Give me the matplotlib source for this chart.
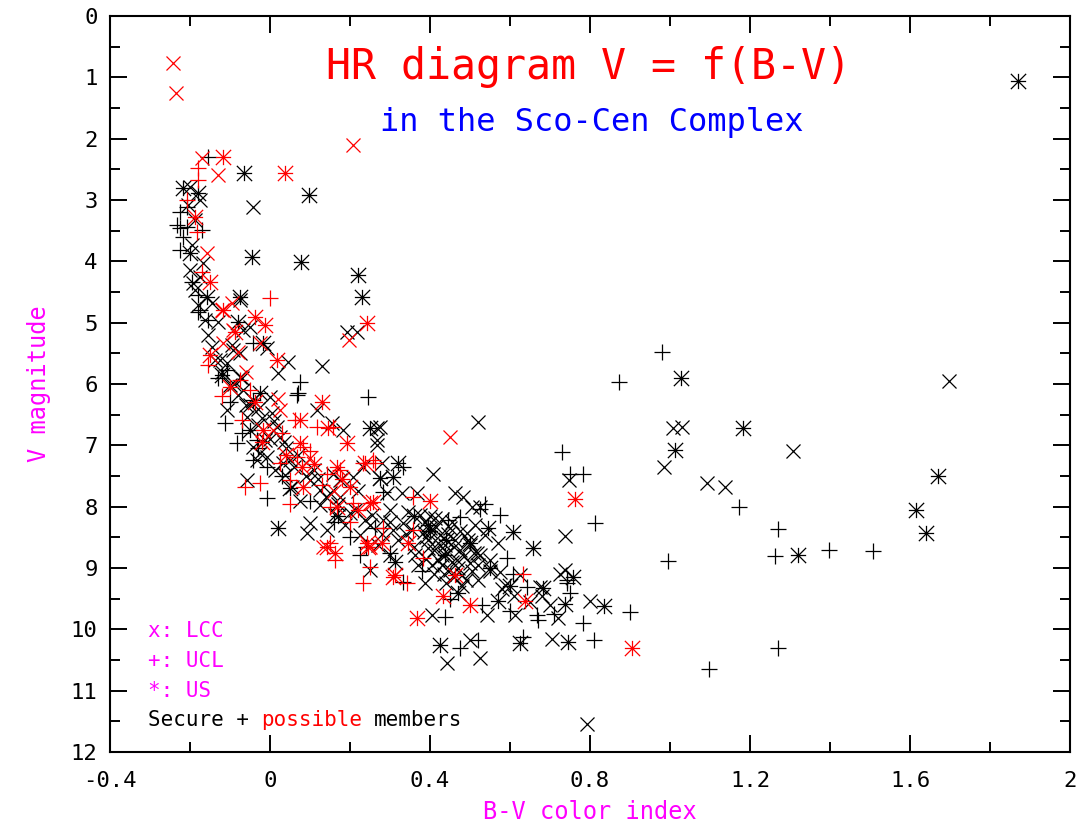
import numpy as np
import matplotlib.pyplot as plt
from matplotlib.path import Path
from matplotlib.ticker import MultipleLocator, FixedLocator, FixedFormatter

# (B-V, V), one list per marker / membership
lcc_secure = [  # black x
    (-0.043, 3.12), (0.13, 5.71), (0.193, 5.15), (0.218, 5.15), (0.268, 6.72), (0.52, 6.62),
    (1.008, 6.72), (1.03, 6.70), (0.985, 7.36), (1.308, 7.10), (1.698, 5.95), (1.093, 7.62),
    (1.138, 7.68), (0.748, 7.57), (0.738, 8.48), (0.738, 9.04), (0.80, 9.53), (0.793, 11.55),
    (-0.2, 2.79), (-0.175, 3.0), (-0.168, 4.03), (-0.175, 4.26), (-0.145, 4.68), (-0.13, 4.99),
    (-0.075, 4.63), (-0.068, 5.12), (-0.145, 5.40), (-0.193, 4.36), (-0.05, 5.07), (-0.108, 5.66),
    (-0.095, 5.37), (-0.07, 5.91), (-0.008, 5.42), (0.045, 5.64), (0.02, 5.82), (-0.108, 6.43),
    (-0.058, 6.54), (0.005, 6.48), (0.018, 6.70), (-0.043, 7.03), (0.155, 6.64), (0.275, 6.70),
    (0.408, 7.46), (0.033, 7.29), (-0.025, 7.13), (-0.058, 7.57), (0.093, 8.43), (0.25, 9.04),
    (0.405, 9.77), (0.483, 7.85), (0.525, 8.01), (0.15, 7.78), (0.175, 7.57),
    (-0.125, 5.61), (-0.093, 5.45), (-0.075, 5.50), (0.118, 6.43), (-0.075, 5.89), (-0.068, 6.10),
    (0.0, 6.22), (0.025, 6.87), (0.183, 6.75), (0.268, 6.92), (0.05, 7.24), (-0.008, 7.19),
    (-0.033, 7.24), (0.10, 7.57), (0.125, 7.73), (0.158, 7.46), (0.208, 7.52), (0.233, 7.36),
    (0.275, 7.54), (0.293, 7.78), (0.175, 7.85), (0.10, 8.27), (0.143, 8.38), (0.308, 8.38),
    (0.283, 8.22), (0.268, 7.0), (0.28, 7.29), (0.33, 7.78), (0.368, 7.78), (0.463, 7.78),
    (0.505, 8.01), (0.30, 8.06), (0.255, 8.14), (0.493, 8.43), (0.333, 8.27), (0.57, 8.60),
    (0.518, 8.76), (0.468, 8.87), (0.443, 8.76), (0.50, 8.92), (0.525, 8.79), (0.388, 9.25),
    (0.575, 9.07), (0.675, 9.31), (0.725, 9.09), (0.543, 9.77), (0.613, 9.77), (0.72, 9.82),
    (0.50, 10.18), (0.525, 10.47), (0.443, 10.55), (0.705, 10.15),
    (0.375, 8.14), (0.388, 8.25), (0.40, 8.35), (0.413, 8.19), (0.425, 8.47), (0.395, 8.55),
    (0.438, 8.63), (0.45, 8.35), (0.463, 8.55), (0.475, 8.71), (0.42, 8.87), (0.45, 9.04),
    (0.48, 9.12), (0.50, 8.63), (0.513, 8.30), (0.538, 8.47), (0.55, 8.87), (0.588, 9.28),
    (0.625, 9.12), (0.363, 8.79), (0.355, 8.38), (0.345, 8.09), (0.32, 8.55), (0.30, 8.79),
    (0.27, 8.63), (0.238, 8.22), (0.213, 8.06), (0.225, 8.47), (0.188, 8.30), (0.163, 8.14),
    (0.125, 7.98), (0.075, 7.90), (0.055, 7.68), (0.038, 7.49), (0.013, 7.41), (-0.013, 6.92),
    (-0.03, 6.67), (-0.05, 6.35), (-0.08, 6.18), (-0.10, 6.02), (-0.12, 5.81), (-0.138, 5.61),
    (-0.155, 5.20), (-0.163, 4.96), (-0.18, 4.71), (-0.188, 4.47), (-0.2, 4.14), (-0.195, 3.74),
    (-0.188, 3.33), (-0.205, 3.08),
    (-0.09, 6.0), (-0.06, 6.35), (-0.02, 6.55), (0.0, 6.9), (0.04, 7.05), (0.06, 7.35),
    (0.09, 7.5), (0.12, 7.55), (0.14, 7.85), (0.17, 7.95), (0.2, 8.1), (0.22, 7.75),
    (0.25, 8.3), (0.28, 8.45), (0.3, 8.25), (0.34, 8.45), (0.36, 8.65), (0.39, 8.85),
    (0.41, 8.7), (0.43, 8.95), (0.46, 9.15), (0.48, 9.3), (0.52, 9.2), (0.55, 9.05),
    (0.58, 9.35), (0.61, 9.45), (0.65, 9.55), (0.68, 9.45), (0.7, 9.6),
    (0.385, 8.42), (0.395, 8.68), (0.405, 8.95), (0.415, 8.33), (0.42, 8.6), (0.43, 8.78),
    (0.435, 9.1), (0.445, 8.45), (0.455, 8.9), (0.46, 8.65), (0.47, 9.0), (0.475, 8.4),
    (0.485, 8.8), (0.49, 9.2), (0.495, 8.55), (0.505, 9.05), (0.51, 8.75), (0.52, 8.95),
    (0.44, 9.25), (0.41, 9.1), (0.39, 8.5), (0.37, 8.95), (0.455, 8.25), (0.43, 8.2),
    (0.40, 8.15), (-0.03, 6.4), (0.01, 6.6), (0.035, 6.95), (0.07, 7.15), (0.11, 7.4),
]
ucl_secure = [  # black +
    (-0.155, 2.30), (-0.18, 4.83), (0.075, 5.97), (0.07, 6.15), (0.245, 6.22), (0.98, 5.48),
    (1.173, 8.01), (1.27, 8.37), (1.263, 8.81), (1.398, 8.70), (1.508, 8.73), (0.995, 8.89),
    (1.27, 10.31), (1.098, 10.64), (0.73, 7.11), (0.75, 7.46), (0.783, 7.46), (0.813, 8.27),
    (0.743, 9.25), (0.75, 9.41), (0.90, 9.71), (0.783, 9.89), (0.81, 10.18), (0.873, 5.97),
    (-0.225, 3.20), (-0.233, 3.41), (-0.208, 3.44), (-0.17, 3.49), (-0.218, 3.60), (-0.225, 3.82),
    (-0.195, 4.34), (-0.18, 4.55), (-0.175, 4.80), (-0.155, 4.96), (-0.043, 5.33), (-0.108, 5.77),
    (-0.113, 6.64), (-0.083, 6.97), (-0.043, 7.24), (-0.008, 7.86), (0.225, 8.79), (0.333, 9.23),
    (0.068, 6.18), (-0.033, 6.92), (-0.008, 7.36), (-0.208, 3.12), (-0.225, 3.45),
    (0.333, 7.36), (0.283, 7.76), (0.538, 7.95), (0.525, 8.03), (0.575, 8.14), (0.475, 8.17),
    (0.445, 8.22), (0.263, 8.35), (0.593, 8.83), (0.608, 9.09), (0.643, 9.31), (0.743, 9.20),
    (0.668, 9.77), (0.438, 9.80), (0.475, 10.31), (0.52, 10.18), (0.633, 10.13),
    (-0.13, 5.9), (-0.1, 6.3), (-0.07, 6.8), (-0.03, 7.05), (0.03, 7.5), (0.1, 7.9),
    (0.16, 8.25), (0.2, 8.5), (0.24, 8.65), (0.3, 8.75), (0.38, 9.05), (0.45, 9.5),
    (0.53, 9.6), (0.6, 9.7), (0.67, 9.85), (0.71, 9.75),
]
us_secure = [  # black asterisk
    (-0.065, 2.56), (0.098, 2.92), (-0.045, 3.93), (0.078, 4.01), (-0.075, 4.58), (0.22, 4.22),
    (0.23, 4.58), (0.25, 6.72), (1.87, 1.06), (1.028, 5.91), (1.183, 6.72), (1.013, 7.08),
    (1.67, 7.50), (1.615, 8.06), (1.64, 8.43), (1.32, 8.78), (0.758, 9.14), (0.738, 9.58),
    (0.835, 9.62), (0.745, 10.20), (-0.218, 2.81), (-0.18, 2.89), (-0.2, 3.87), (-0.158, 4.58),
    (-0.08, 4.99), (-0.025, 6.15), (0.02, 8.35), (0.32, 7.28), (0.275, 7.54), (0.545, 8.34),
    (0.608, 8.42), (0.658, 8.68), (0.313, 8.91), (0.683, 9.33), (0.57, 9.53), (0.47, 9.41),
    (0.425, 10.26), (0.625, 10.23), (-0.018, 5.33), (-0.043, 6.26), (0.308, 7.52),
    (0.395, 8.30), (0.438, 8.79),
    (-0.12, 5.85), (-0.05, 6.75), (0.05, 7.7), (0.17, 8.15), (0.36, 8.15), (0.4, 8.4),
    (0.44, 8.55), (0.5, 8.6), (0.55, 9.0), (0.6, 9.3),
]
lcc_possible = [  # red x
    (-0.243, 0.77), (-0.235, 1.26), (0.208, 2.10), (-0.17, 2.32), (-0.13, 2.59), (0.198, 5.29),
    (0.45, 6.87), (-0.158, 3.87), (-0.095, 4.68), (-0.025, 5.33), (-0.118, 5.33), (-0.12, 4.80),
    (-0.093, 5.12), (-0.08, 5.48), (0.025, 6.43), (0.008, 6.75), (0.133, 8.66), (0.25, 8.66),
    (-0.06, 5.8), (0.02, 6.25), (0.1, 7.2), (0.16, 7.75),
]
ucl_possible = [  # red +
    (-0.18, 2.68), (-0.208, 3.0), (-0.183, 3.52), (-0.17, 4.17), (0.0, 4.60), (-0.155, 5.69),
    (-0.075, 5.94), (-0.07, 6.59), (0.118, 6.70), (0.063, 6.59), (0.233, 7.28), (0.263, 7.28),
    (0.068, 7.19), (-0.063, 7.68), (-0.025, 7.62), (0.05, 7.57), (0.163, 8.87), (0.233, 9.25),
    (0.358, 7.85), (0.158, 6.70), (0.083, 7.03), (0.025, 7.29), (0.143, 7.46), (0.175, 7.41),
    (0.208, 7.94), (0.15, 8.01), (0.15, 8.60), (0.258, 7.24), (0.358, 8.38), (0.283, 8.34),
    (0.383, 8.83), (0.25, 8.99), (0.343, 9.25), (0.633, 9.09), (-0.18, 2.48),
    (-0.12, 6.2), (-0.05, 6.1), (0.03, 6.8), (0.1, 7.1), (0.13, 7.65), (0.2, 8.25), (0.05, 7.95),
]
us_possible = [  # red asterisk
    (-0.118, 2.30), (0.038, 2.56), (-0.188, 3.28), (-0.15, 4.34), (-0.118, 4.80), (-0.038, 4.91),
    (-0.013, 5.04), (-0.088, 5.15), (0.243, 5.01), (0.13, 6.30), (-0.15, 5.53), (0.018, 5.61),
    (-0.038, 6.30), (-0.018, 6.75), (0.075, 6.97), (0.193, 6.97), (0.08, 7.36), (0.083, 7.68),
    (0.143, 8.66), (0.163, 8.76), (0.245, 8.66), (0.313, 9.12), (0.368, 9.82), (0.433, 9.45),
    (0.50, 9.61), (0.463, 9.12), (0.345, 8.60), (0.40, 7.90), (0.258, 7.93), (0.638, 9.54),
    (0.763, 7.88), (0.905, 10.31), (0.075, 6.59), (0.145, 6.72), (0.168, 7.36), (0.238, 7.29),
    (0.20, 7.68), (0.25, 7.94), (0.168, 8.01), (0.243, 8.60), (0.308, 9.15),
    (-0.1, 6.05), (-0.02, 6.95), (0.04, 7.15), (0.11, 7.3), (0.18, 7.55), (0.22, 8.05), (0.28, 8.6),
]

xtick_vals = [-0.4, 0, 0.4, 0.8, 1.2, 1.6, 2.0]
xtick_text = ['-0.4', '0', '0.4', '0.8', '1.2', '1.6', '2']

# asterisk = x and + drawn together
star = Path([(-1, 0), (1, 0), (0, -1), (0, 1), (-1, -1), (1, 1), (-1, 1), (1, -1)],
            [Path.MOVETO, Path.LINETO] * 4)

plt.rcParams['font.family'] = ['DejaVu Sans Mono']
fig = plt.figure(figsize=(10.81, 8.27), dpi=100)
ax = fig.add_axes([110 / 1081, 75 / 827, 960 / 1081, 736 / 827])

groups = [
    (lcc_secure, 'x', 'black', 10.5),
    (ucl_secure, '+', 'black', 12),
    (us_secure, star, 'black', 11),
    (lcc_possible, 'x', 'red', 10.5),
    (ucl_possible, '+', 'red', 12),
    (us_possible, star, 'red', 11),
]
for pts, mk, col, ms in groups:
    a = np.array(pts)
    ax.plot(a[:, 0], a[:, 1], ls='none', marker=mk, color=col, ms=ms, mew=0.9)

ax.set_xlim(-0.4, 2.0)
ax.set_ylim(12, 0)

ax.xaxis.set_major_locator(FixedLocator(xtick_vals))
ax.xaxis.set_major_formatter(FixedFormatter(xtick_text))
ax.xaxis.set_minor_locator(MultipleLocator(0.2))
ax.yaxis.set_major_locator(MultipleLocator(1))
ax.yaxis.set_minor_locator(MultipleLocator(0.5))
ax.tick_params(which='both', direction='in', top=True, right=True, width=1.4, labelsize=16)
ax.tick_params(which='major', length=12)
ax.tick_params(which='minor', length=7)
ax.tick_params(axis='x', pad=14)
ax.tick_params(axis='y', pad=9)
for s in ax.spines.values():
    s.set_linewidth(1.5)

ax.set_xlabel('B-V color index', color='#ff00ff', fontsize=17, labelpad=6)
ax.set_ylabel('V magnitude', color='#ff00ff', fontsize=17, labelpad=14)

ax.text(0.795, 0.83, 'HR diagram V = f(B-V)', color='red', fontsize=30,
        ha='center', va='center')
ax.text(0.805, 1.73, 'in the Sco-Cen Complex', color='blue', fontsize=23,
        ha='center', va='center')

ax.text(-0.305, 10.02, 'x: LCC', color='#ff00ff', fontsize=15, va='center')
ax.text(-0.305, 10.52, '+: UCL', color='#ff00ff', fontsize=15, va='center')
ax.text(-0.305, 11.0, '*: US', color='#ff00ff', fontsize=15, va='center')
# one line in three colours: monospace, so offset by character count
cw = 0.602 * 15
for txt, col, nch in [('Secure +', 'black', 0), ('possible', 'red', 9), ('members', 'black', 18)]:
    ax.annotate(txt, (-0.305, 11.48), xytext=(nch * cw, 0), textcoords='offset points',
                color=col, fontsize=15, va='center')

fig.savefig('out.png', dpi=100)
